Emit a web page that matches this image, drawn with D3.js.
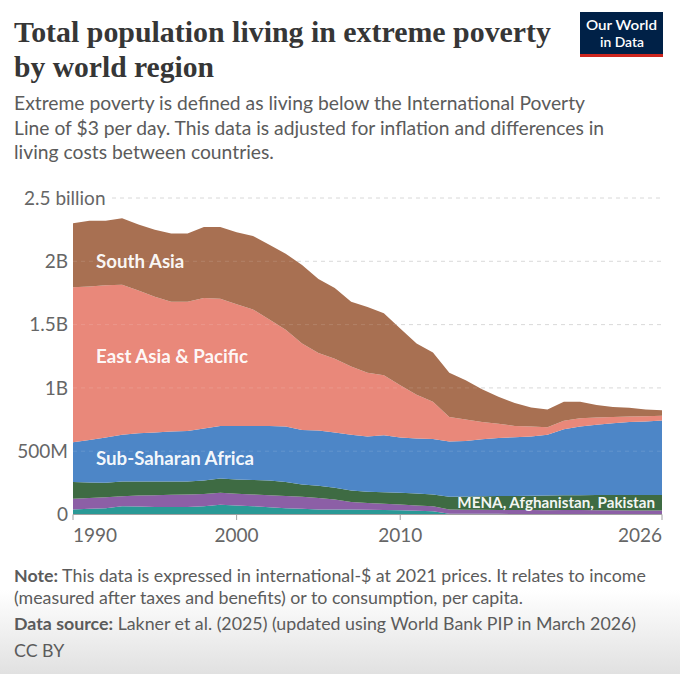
<!DOCTYPE html>
<html>
<head>
<meta charset="utf-8">
<script src="https://cdn.jsdelivr.net/npm/d3@7"></script>
<style>
  body { margin: 0; background: #fff; }
  svg { display: block; font-family: Lato, 'Noto Sans', sans-serif; }
</style>
</head>
<body>
<svg id="chart" width="680" height="674"></svg>
<script>
// values in millions of people
const years = [1990, 1991, 1992, 1993, 1994, 1995, 1996, 1997, 1998, 1999,
               2000, 2001, 2002, 2003, 2004, 2005, 2006, 2007, 2008, 2009,
               2010, 2011, 2012, 2013, 2014, 2015, 2016, 2017, 2018, 2019,
               2020, 2021, 2022, 2023, 2024, 2025, 2026];

const europeCentralAsia = [40, 45, 50, 66, 63, 60, 60, 60, 65, 77,
                           72, 66, 58, 50, 45, 40, 40, 40, 37, 35,
                           34, 30, 26, 5, 5, 5, 5, 4, 4, 4,
                           4, 4, 4, 4, 4, 4, 4];
const latinAmerica = [84, 85, 87, 79, 87, 93, 96, 98, 96, 95,
                      92, 92, 95, 97, 95, 90, 79, 58, 53, 50,
                      45, 42, 40, 35, 33, 32, 31, 31, 31, 30,
                      32, 31, 30, 29, 28, 27, 27];
const mena = [132, 123, 113, 116, 111, 108, 105, 103, 108, 113,
              113, 115, 116, 109, 97, 97, 92, 92, 90, 91,
              93, 93, 92, 100, 104, 107, 110, 112, 113, 116,
              116, 118, 120, 121, 122, 123, 123];
const subSaharanAfrica = [315, 336, 358, 368, 381, 386, 394, 399, 411, 415,
                          423, 427, 431, 439, 431, 436, 436, 439, 436, 450,
                          436, 435, 439, 436, 439, 451, 459, 463, 468, 480,
                          522, 542, 554, 566, 576, 580, 588];
const eastAsiaPacific = [1224, 1211, 1202, 1186, 1128, 1073, 1025, 1020, 1030, 1005,
                         960, 920, 840, 765, 682, 612, 583, 541, 504, 474,
                         412, 345, 293, 194, 169, 135, 111, 90, 79, 60,
                         66, 65, 58, 50, 45, 43, 38];
const southAsia = [505, 520, 510, 525, 520, 530, 540, 540, 560, 565,
                   570, 580, 590, 600, 620, 585, 560, 510, 520, 490,
                   450, 405, 390, 350, 310, 260, 214, 180, 150, 140,
                   150, 130, 98, 80, 68, 53, 44];

const regions = [
  { key: 'eca',  name: 'Europe & Central Asia',        values: europeCentralAsia, color: '#2a9996' },
  { key: 'lac',  name: 'Latin America & Caribbean',    values: latinAmerica,      color: '#8c5fa6' },
  { key: 'mena', name: 'MENA, Afghanistan, Pakistan',  values: mena,              color: '#3e6b43' },
  { key: 'ssa',  name: 'Sub-Saharan Africa',           values: subSaharanAfrica,  color: '#4d86c7' },
  { key: 'eap',  name: 'East Asia & Pacific',          values: eastAsiaPacific,   color: '#e9887a' },
  { key: 'sa',   name: 'South Asia',                   values: southAsia,         color: '#a87052' }
];

const yTicks = [0, 500, 1000, 1500, 2000, 2500];
const yTickLabels = ['0', '500M', '1B', '1.5B', '2B', '2.5 billion'];
const xTicks = [1990, 2000, 2010, 2026];

const svg = d3.select('#chart');

// faint photo-like shading at the bottom
const defs = svg.append('defs');
const grad = defs.append('linearGradient')
    .attr('id', 'fade').attr('x1', 0).attr('y1', 0).attr('x2', 0).attr('y2', 1);
grad.append('stop').attr('offset', '0%').attr('stop-color', '#ffffff');
grad.append('stop').attr('offset', '100%').attr('stop-color', '#e1e1e1');
svg.append('rect').attr('x', 0).attr('y', 590).attr('width', 680).attr('height', 84)
    .attr('fill', 'url(#fade)');

// header
const title = svg.append('g')
    .attr('font-family', "'Liberation Serif', 'DejaVu Serif', serif")
    .attr('font-weight', 'bold')
    .attr('font-size', 30)
    .attr('fill', '#363636');
title.append('text').attr('x', 14).attr('y', 42)
    .attr('textLength', 537).attr('lengthAdjust', 'spacingAndGlyphs')
    .text('Total population living in extreme poverty');
title.append('text').attr('x', 14).attr('y', 77)
    .attr('textLength', 200).attr('lengthAdjust', 'spacingAndGlyphs')
    .text('by world region');

const subtitle = [
  'Extreme poverty is defined as living below the International Poverty',
  'Line of $3 per day. This data is adjusted for inflation and differences in',
  'living costs between countries.'
];
svg.append('g')
    .attr('font-size', 19.3)
    .attr('fill', '#5b5b5b')
    .selectAll('text')
    .data(subtitle)
    .join('text')
    .attr('x', 14)
    .attr('y', (d, i) => 110 + i * 24.5)
    .text(d => d);

// logo
const logo = svg.append('g');
logo.append('rect').attr('x', 580).attr('y', 12).attr('width', 83).attr('height', 43).attr('fill', '#002147');
logo.append('rect').attr('x', 580).attr('y', 54).attr('width', 83).attr('height', 3).attr('fill', '#ce261e');
logo.append('text').attr('x', 586).attr('y', 30)
    .attr('fill', '#fff').attr('font-size', 14).attr('font-weight', 600)
    .attr('textLength', 71).attr('lengthAdjust', 'spacingAndGlyphs')
    .text('Our World');
logo.append('text').attr('x', 600).attr('y', 47)
    .attr('fill', '#fff').attr('font-size', 14).attr('font-weight', 600)
    .attr('textLength', 44).attr('lengthAdjust', 'spacingAndGlyphs')
    .text('in Data');

// chart
const x = d3.scaleLinear().domain([1990, 2026]).range([73, 662]);
const y = d3.scaleLinear().domain([0, 2500]).range([514.5, 198]);

const table = years.map((yr, i) => {
  const row = { year: yr };
  regions.forEach(r => { row[r.key] = r.values[i]; });
  return row;
});

const series = d3.stack().keys(regions.map(r => r.key))(table);

const gridX0 = v => (v === 2500 ? 112 : 73);

// gridlines under areas
svg.append('g')
    .selectAll('line')
    .data(yTicks.filter(v => v > 0))
    .join('line')
    .attr('x1', d => gridX0(d)).attr('x2', 662)
    .attr('y1', d => y(d)).attr('y2', d => y(d))
    .attr('stroke', '#d6d6d6')
    .attr('stroke-dasharray', '4,4');

const area = d3.area()
    .x(d => x(d.data.year))
    .y0(d => y(d[0]))
    .y1(d => y(d[1]));

svg.append('g')
    .selectAll('path')
    .data(series)
    .join('path')
    .attr('fill', (d, i) => regions[i].color)
    .attr('d', area);

// gridlines faintly over areas
svg.append('g')
    .selectAll('line')
    .data(yTicks.filter(v => v > 0))
    .join('line')
    .attr('x1', d => gridX0(d)).attr('x2', 662)
    .attr('y1', d => y(d)).attr('y2', d => y(d))
    .attr('stroke', '#ffffff')
    .attr('stroke-opacity', 0.13)
    .attr('stroke-dasharray', '4,4');

// y labels
svg.append('g')
    .attr('font-size', 19)
    .attr('fill', '#666')
    .selectAll('text')
    .data(yTicks)
    .join('text')
    .attr('x', (d, i) => (d === 2500 ? 24 : 68))
    .attr('y', d => y(d))
    .attr('dy', '0.35em')
    .attr('text-anchor', d => (d === 2500 ? 'start' : 'end'))
    .text((d, i) => yTickLabels[i]);

// x axis
svg.append('line')
    .attr('x1', 73).attr('x2', 662)
    .attr('y1', 514.5).attr('y2', 514.5)
    .attr('stroke', '#a0a0a0');

svg.append('g')
    .selectAll('line')
    .data(xTicks)
    .join('line')
    .attr('x1', d => x(d)).attr('x2', d => x(d))
    .attr('y1', 514.5).attr('y2', 520)
    .attr('stroke', '#a0a0a0');

svg.append('g')
    .attr('font-size', 19)
    .attr('fill', '#666')
    .selectAll('text')
    .data(xTicks)
    .join('text')
    .attr('x', d => x(d))
    .attr('y', 542)
    .attr('text-anchor', (d, i) => (i === 0 ? 'start' : i === xTicks.length - 1 ? 'end' : 'middle'))
    .text(d => d);

// area labels
const labels = [
  { text: 'South Asia', x: 96, y: 268, size: 18.7 },
  { text: 'East Asia & Pacific', x: 96, y: 363, size: 18.7 },
  { text: 'Sub-Saharan Africa', x: 96, y: 465, size: 18.7 },
  { text: 'MENA, Afghanistan, Pakistan', x: 655, y: 508, size: 15.2, anchor: 'end' }
];
svg.append('g')
    .attr('fill', '#fff')
    .attr('font-weight', 'bold')
    .selectAll('text')
    .data(labels)
    .join('text')
    .attr('x', d => d.x)
    .attr('y', d => d.y)
    .attr('font-size', d => d.size)
    .attr('text-anchor', d => d.anchor || 'start')
    .attr('fill-opacity', 0.96)
    .text(d => d.text);

// footer
const footer = svg.append('g').attr('font-size', 17.8).attr('fill', '#5b5b5b');
const f1 = footer.append('text').attr('x', 14).attr('y', 582);
f1.append('tspan').attr('font-weight', 'bold').text('Note:');
f1.append('tspan').text(' This data is expressed in international-$ at 2021 prices. It relates to income');
footer.append('text').attr('x', 14).attr('y', 604)
    .text('(measured after taxes and benefits) or to consumption, per capita.');
const f3 = footer.append('text').attr('x', 14).attr('y', 630);
f3.append('tspan').attr('font-weight', 'bold').text('Data source:');
f3.append('tspan').text(' Lakner et al. (2025) (updated using World Bank PIP in March 2026)');
footer.append('text').attr('x', 14).attr('y', 657).text('CC BY');
</script>
</body>
</html>
